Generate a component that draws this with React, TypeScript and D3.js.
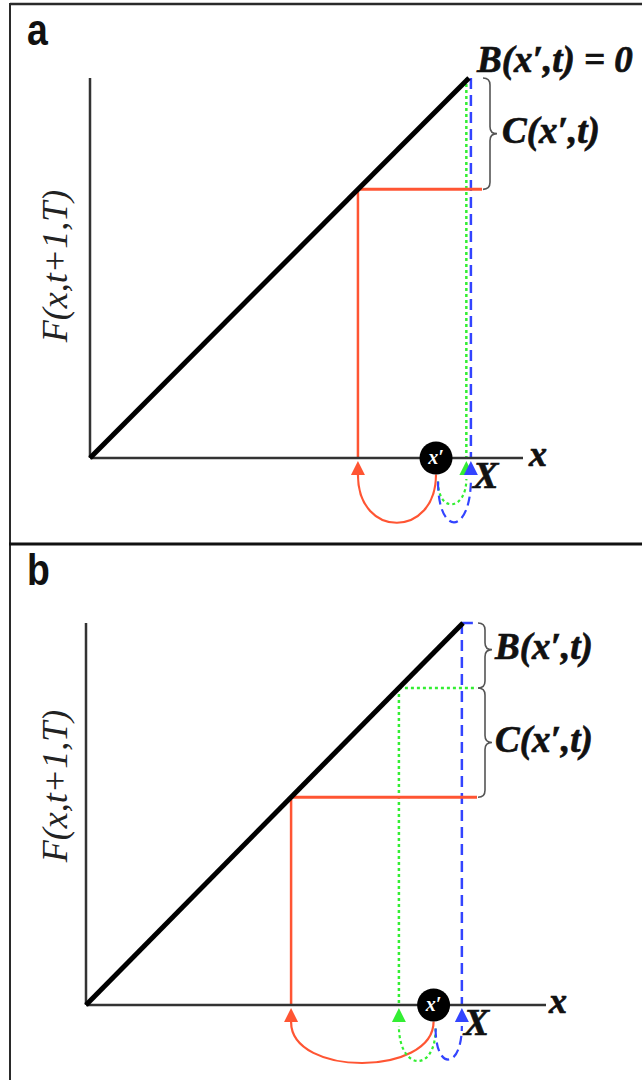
import React from 'react';
import * as d3 from 'd3';

// ---- data (unit coordinates: x in [0,1], F on the diagonal F = x) ----
const PANEL_IDS = ['a', 'b'];
const START_X = [0.913, 0.922];          // position of x′ (the black dot)
const RED_X = [0.707, 0.544];            // red jump landing
const GREEN_X = [0.993, 0.83];           // green jump landing
const BLUE_X = [1.005, 0.997];           // blue jump landing (X)
const SHOW_LEVEL = [
  [true, false, false],
  [true, true, true],
];
const TOP_LABEL_A = 'B(x′,t) = 0';
const BRACE_LABELS_A = ['C(x′,t)'];
const BRACE_LABELS_B = ['B(x′,t)', 'C(x′,t)'];
const X_LABEL = 'x';
const X_END_LABEL = 'X';
const Y_LABEL = 'F(x,t+1,T)';
const POINT_LABEL = 'x′';

// ---- layout ----
const LAYOUT = [
  { ox: 90, oy: 458, tx: 469, ty: 78, axisEnd: 523, braceX: 490, labelX: 502,
    yLabelY: 266, letterY: 45, depth: [64, 32, 56], xLabX: 529 },
  { ox: 86, oy: 1005, tx: 463, ty: 623, axisEnd: 546, braceX: 485, labelX: 495,
    yLabelY: 786, letterY: 585, depth: [55, 45, 43], xLabX: 549 },
];

const RED = '#ff5533';
const GREEN = '#33ee33';
const BLUE = '#3344ff';
const SERIF = '"Liberation Serif", "Times New Roman", serif';

function bracePath(x: number, yTop: number, yBot: number, tipY: number) {
  const w = 7, r = 7;
  const p = d3.path();
  p.moveTo(x - w, yTop);
  p.quadraticCurveTo(x, yTop, x, yTop + r);
  p.lineTo(x, tipY - r);
  p.quadraticCurveTo(x, tipY, x + w, tipY);
  p.quadraticCurveTo(x, tipY, x, tipY + r);
  p.lineTo(x, yBot - r);
  p.quadraticCurveTo(x, yBot, x - w, yBot);
  return p.toString();
}

function arcPath(sx: number, sy: number, tx: number, ty: number, k: number) {
  const p = d3.path();
  p.moveTo(sx, sy);
  p.bezierCurveTo(sx, sy + k, tx, ty + k, tx, ty);
  return p.toString();
}

function triPath(x: number, tip: number, base: number, hw: number) {
  const p = d3.path();
  p.moveTo(x, tip);
  p.lineTo(x + hw, base);
  p.lineTo(x - hw, base);
  p.closePath();
  return p.toString();
}

const boldText = {
  fontFamily: SERIF,
  fontStyle: 'italic',
  fontWeight: 'bold',
  fill: '#111',
  stroke: '#111',
  strokeWidth: 0.7,
} as const;

function Panel({ i }: { i: number }) {
  const L = LAYOUT[i];
  const xs = d3.scaleLinear().domain([0, 1]).range([L.ox, L.tx]);
  const ys = d3.scaleLinear().domain([0, 1]).range([L.oy, L.ty]);
  const diag = d3.line<number>().x((d) => xs(d)).y((d) => ys(d));

  const targets = [RED_X[i], GREEN_X[i], BLUE_X[i]];
  const colors = [RED, GREEN, BLUE];
  const dashes = [undefined, '3,3', '11,6'];
  const levels = [RED_X[i], GREEN_X[i], 1];

  const braces =
    i === 0
      ? [{ from: 1, to: RED_X[0], label: BRACE_LABELS_A[0], tip: 0.5 }]
      : [
          { from: 1, to: GREEN_X[1], label: BRACE_LABELS_B[0], tip: 0.41 },
          { from: GREEN_X[1], to: RED_X[1], label: BRACE_LABELS_B[1], tip: 0.5 },
        ];

  const cx = xs(START_X[i]);
  const cr = 16.5;
  const arrowTip = L.oy + 3;
  const arrowBase = L.oy + 17;

  return (
    <g>
      {/* panel letter */}
      <text
        transform={`translate(27,${L.letterY}) scale(0.85,1)`}
        fontFamily='"Liberation Sans", Arial, sans-serif'
        fontWeight="bold"
        fontSize={44}
        fill="#111"
      >
        {PANEL_IDS[i]}
      </text>

      {/* y label */}
      <text
        transform={`translate(55,${L.yLabelY}) rotate(-90)`}
        textAnchor="middle"
        dominantBaseline="central"
        fontFamily={SERIF}
        fontStyle="italic"
        fontSize={36}
        fill="#222"
      >
        {Y_LABEL}
      </text>

      {/* vertical guides */}
      {targets.map((t, j) => (
        <line
          key={'v' + j}
          x1={xs(t)}
          x2={xs(t)}
          y1={SHOW_LEVEL[i][j] ? ys(levels[j]) : ys(1)}
          y2={L.oy}
          stroke={colors[j]}
          strokeWidth={2.5}
          strokeDasharray={dashes[j]}
        />
      ))}
      {/* horizontal guides */}
      {targets.map((t, j) =>
        SHOW_LEVEL[i][j] ? (
          <line
            key={'h' + j}
            x1={xs(Math.min(t, 1))}
            x2={L.braceX - 8}
            y1={ys(levels[j])}
            y2={ys(levels[j])}
            stroke={colors[j]}
            strokeWidth={j === 0 ? 3 : 2.5}
            strokeDasharray={dashes[j]}
          />
        ) : null
      )}

      {/* axes */}
      <line x1={L.ox} x2={L.ox} y1={ys(1)} y2={L.oy} stroke="#333" strokeWidth={2.5} />
      <line x1={L.ox} x2={L.axisEnd} y1={L.oy} y2={L.oy} stroke="#333" strokeWidth={2.5} />
      <text x={L.xLabX} y={L.oy + 8} fontSize={36} {...boldText}>
        {X_LABEL}
      </text>

      {/* diagonal */}
      <path d={diag([0, 1]) || ''} stroke="#000" strokeWidth={5} fill="none" />

      {/* braces */}
      {braces.map((b, j) => {
        const yt = ys(b.from);
        const yb = ys(b.to);
        const tipY = yt + (yb - yt) * b.tip;
        return (
          <g key={'b' + j}>
            <path d={bracePath(L.braceX, yt, yb, tipY)} stroke="#555" strokeWidth={1.6} fill="none" />
            <text x={L.labelX} y={tipY + 9} fontSize={37} {...boldText}>
              {b.label}
            </text>
          </g>
        );
      })}
      {i === 0 && (
        <text x={477} y={72} fontSize={37} {...boldText}>
          {TOP_LABEL_A}
        </text>
      )}

      {/* jumps */}
      {targets.map((t, j) => {
        const sy = L.oy + cr + (j === 0 ? 0 : 7);
        return (
          <path
            key={'a' + j}
            d={arcPath(cx + (j === 0 ? 0 : 2), sy, xs(t), arrowBase + (j === 0 ? 0 : 4), L.depth[j])}
            stroke={colors[j]}
            strokeWidth={2.2}
            strokeDasharray={j === 0 ? undefined : j === 1 ? '3,3' : '9,5'}
            fill="none"
          />
        );
      })}
      {targets.map((t, j) => (
        <path key={'t' + j} d={triPath(xs(t), arrowTip, arrowBase, 7)} fill={colors[j]} />
      ))}

      {/* x′ dot */}
      <circle cx={cx} cy={L.oy} r={cr} fill="#000" />
      <text
        x={cx}
        y={L.oy + 6}
        textAnchor="middle"
        fontFamily={SERIF}
        fontStyle="italic"
        fontWeight="bold"
        fontSize={20}
        fill="#fff"
      >
        {POINT_LABEL}
      </text>

      {/* X label */}
      <text x={xs(BLUE_X[i]) + 2} y={L.oy + 30} fontSize={38} {...boldText}>
        {X_END_LABEL}
      </text>
    </g>
  );
}

export default function App() {
  return (
    <svg
      width={642}
      height={1080}
      style={{ position: 'absolute', left: 0, top: 0, display: 'block', background: '#fff' }}
    >
      <rect x={0} y={0} width={642} height={1080} fill="#fff" />
      {/* panel frames */}
      <line x1={10} x2={660} y1={4} y2={4} stroke="#2a2a2a" strokeWidth={2.5} />
      <line x1={10} x2={10} y1={3} y2={1080} stroke="#2a2a2a" strokeWidth={2} />
      <line x1={9} x2={660} y1={544} y2={544} stroke="#111" strokeWidth={3} />
      {PANEL_IDS.map((_, i) => (
        <Panel key={i} i={i} />
      ))}
    </svg>
  );
}
